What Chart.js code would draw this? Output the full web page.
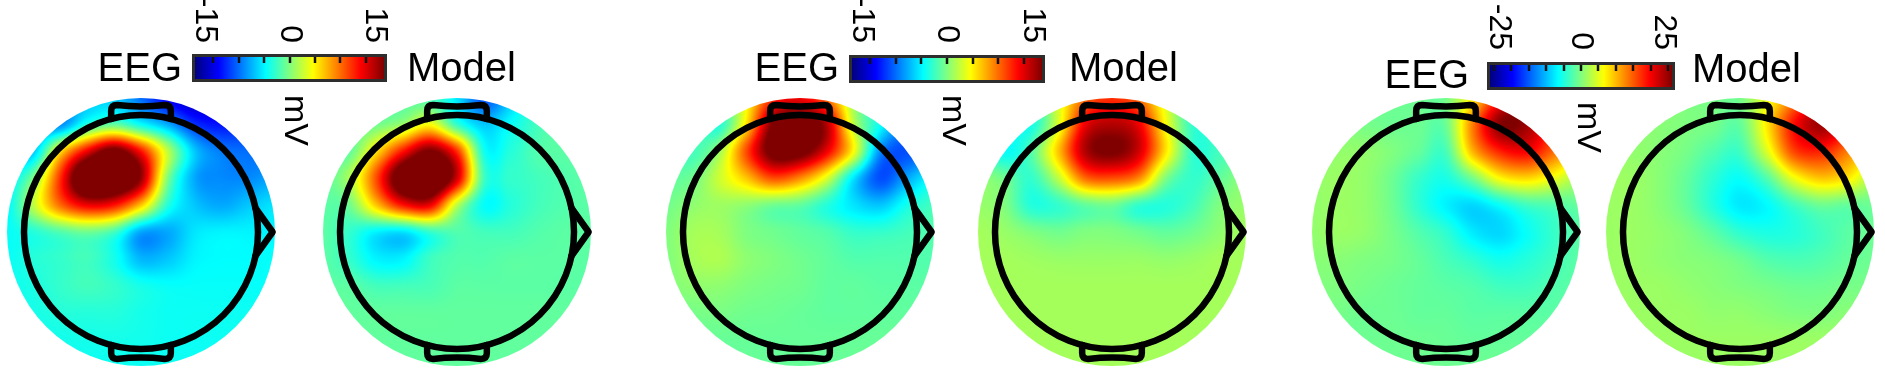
<!DOCTYPE html>
<html><head><meta charset="utf-8">
<script src="https://cdn.jsdelivr.net/npm/chart.js@4/dist/chart.umd.min.js"></script>
<style>
html,body{margin:0;padding:0;background:#fff;width:1885px;height:374px;overflow:hidden;position:relative;}
canvas{position:absolute;}
</style></head><body>
<script>
// ---------- data (electrode grid, head units; rows from front/top to back/bottom) ----------
const gridX = [-1.15,-0.92,-0.69,-0.46,-0.23,0,0.23,0.46,0.69,0.92,1.15];
const gridY = [1.15,0.92,0.69,0.46,0.23,0,-0.23,-0.46,-0.69,-0.92,-1.15];

const eeg1 = [
 [-6,-6,-6,-6,-6,-9,-13,-15,-14,-12,-10],
 [-6,-7,-8,-3,-1,-4,-7,-11,-12,-11,-10],
 [-6,-6,5,13,18,12,2,-6,-8.5,-9,-9],
 [-5,0,11,22,22,16,0,-7,-8,-8,-7],
 [-4.5,2,9,13,12,6,-3,-6,-7,-6,-5],
 [-4,-3,-1.5,-0.5,-2,-7,-7,-5,-4.5,-4.5,-4.5],
 [-4,-3,-2.5,-2,-3.5,-6.5,-6,-4.5,-4.2,-4.2,-4],
 [-3.8,-3.3,-2.5,-2,-2.5,-3.5,-4,-4,-4,-4,-4],
 [-3.8,-3.5,-3,-3,-3,-3.5,-3.8,-3.8,-3.8,-3.8,-3.8],
 [-3.8,-3.8,-3.6,-3.5,-3.5,-3.6,-3.8,-3.8,-3.8,-3.8,-3.8],
 [-3.8,-3.8,-3.8,-3.8,-3.8,-3.8,-3.8,-3.8,-3.8,-3.8,-3.8]
];
const model1 = [
 [-1.2,-1.2,-1.2,-1.2,-2,-5,-10,-6,-2,-1.2,-1.2],
 [-1.2,-1.2,-0.5,1,4,-2.5,-6,-4,-2,-1.2,-1.2],
 [-1.2,-1,5,12,17,11,-3.5,-3,-1.5,-1.2,-1.2],
 [-1.2,1.5,10,20,22,14,-2,-2.5,-2,-1.5,-1.2],
 [-1.2,-0.5,6,12,13,2,-4,-3,-2,-1.5,-1.2],
 [-1.2,-2.5,-4.5,-5,-2.5,-1.5,-2,-2,-1.5,-1.2,-1.2],
 [-1.2,-2.5,-4.5,-4.5,-2.2,-1.5,-1.5,-1.2,-1.2,-1.2,-1.2],
 [-1.2,-1.2,-2,-2,-1.8,-1.2,-1.2,-1.2,-1.2,-1.2,-1.2],
 [-1,-1,-1,-1,-1,-1,-1,-1,-1,-1,-1],
 [-1,-1,-1,-1,-1,-1,-1,-1,-1,-1,-1],
 [-1,-1,-1,-1,-1,-1,-1,-1,-1,-1,-1]
];
const eeg2 = [
 [-1,-1,-2,4,11,13,9,1,-4,-3,-2],
 [-1,-1,-3,5,17,19,15,2,-4,-8,-6],
 [-1,-2,1,10,18,18,13,4,-8,-10,-8],
 [-1,-0.5,2.5,6,10,8,3,-5,-10,-7,-4],
 [-0.5,0.5,1,0.5,-0.5,-1,-3,-5,-6,-3.5,-2],
 [0,1.2,1.2,0,-0.5,-1,-1.5,-2.5,-2.5,-2,-1.5],
 [0,1.2,1.5,0.5,0,-0.5,-1,-1.5,-1.5,-1.5,-1.5],
 [0,0.5,0.5,0,-0.3,-0.5,-1,-1,-1.2,-1.2,-1.2],
 [-0.5,-0.3,-0.2,-0.5,-0.6,-0.8,-1,-1,-1,-1,-1],
 [-0.8,-0.8,-0.8,-0.8,-0.8,-0.8,-0.8,-0.8,-0.8,-0.8,-0.8],
 [-0.8,-0.8,-0.8,-0.8,-0.8,-0.8,-0.8,-0.8,-0.8,-0.8,-0.8]
];
const model2 = [
 [-1,-1,-3,3,9,11,9,3,-3,-1.5,-1],
 [-1,-2.5,-3.5,3,13,15,13,4,-2.5,-2,-1],
 [-1,-4,-1.5,6,15,17,14,5,-2.5,-2,-1],
 [0.5,-0.5,-2.5,2,9,10,8,0,-2.5,-1,0.5],
 [0.8,0,-3,-2.5,-1,-0.5,-2.5,-3,-2,0,0.8],
 [1.2,0.8,0,-0.5,0,0,-0.5,-1,-0.5,0.5,1.2],
 [1.2,1.2,1,0.8,0.8,0.8,0.8,0.6,0.8,1.2,1.2],
 [1.2,1.2,1.2,1.2,1.2,1.2,1.2,1.2,1.2,1.2,1.2],
 [1.2,1.2,1.2,1.2,1.2,1.2,1.2,1.2,1.2,1.2,1.2],
 [1.2,1.2,1.2,1.2,1.2,1.2,1.2,1.2,1.2,1.2,1.2],
 [1.2,1.2,1.2,1.2,1.2,1.2,1.2,1.2,1.2,1.2,1.2]
];
const eeg3 = [
 [-1,-1,-1,-1,-1,-0.5,8,20,26,20,8],
 [-1,0,-0.5,-1,-1,-1,14,27,26,18,10],
 [0.5,1,1,0,-1.5,-3,11,19,21,15,8],
 [1,1.5,1,-1,-4,-5.5,-0.5,7,9,6,2],
 [1,1.5,1,-1,-4.5,-7.5,-9,-6.5,-3.5,-2.5,-1.5],
 [1,1.5,1,-0.5,-2.5,-4.5,-8,-9,-6.5,-4,-2],
 [0.5,0.5,0,-0.5,-1.5,-3,-4.5,-6,-5,-3.5,-2],
 [0,0,-0.5,-1,-1.5,-2,-2.5,-3.5,-3.5,-2.5,-2],
 [-0.5,-0.5,-1,-1,-1.5,-1.5,-2,-2,-2,-2,-2],
 [-1,-1,-1,-1,-1,-1.2,-1.5,-1.5,-1.5,-1.5,-1.5],
 [-1,-1,-1,-1,-1,-1,-1,-1,-1,-1,-1]
];
const model3 = [
 [1,1,1,0,-0.5,-0.5,6,14,22,18,8],
 [1,1,0.5,0,-0.5,-1.5,8,20,26,20,10],
 [1,1,0.5,-0.5,-2.5,-3.5,5,17,19,14,8],
 [1.5,1.5,0.5,-1.5,-4.5,-6.5,-2.5,6,10,8,2],
 [1.5,1.5,0.5,-1.5,-5,-8,-7,-3.5,-1,-1.5,-1],
 [1.5,1.5,1,0,-2,-4.5,-5.5,-5,-3.5,-2,-1],
 [1.5,1.5,1,0.5,0,-1,-2.5,-3,-2.5,-1.5,-1],
 [1.5,1.5,1.5,1,0.5,0,-0.5,-1,-1,-0.5,-0.5],
 [1.5,1.5,1.5,1.5,1,1,0.5,0,0,0.5,0.5],
 [1.5,1.5,1.5,1.5,1.5,1.5,1.5,1.5,1.5,1.5,1.5],
 [1.5,1.5,1.5,1.5,1.5,1.5,1.5,1.5,1.5,1.5,1.5]
];
const panelMaps = [eeg1, model1, eeg2, model2, eeg3, model3];
const panelLimits = [16.7, 16.7, 16.7, 16.7, 27.6, 27.6];   // colour limits (mV)

const cbLimits = [16.7, 16.7, 27.6];
const cbTickMarks12 = [-13.5,-9,-4.5,0,4.5,9,13.5];
const cbTickMarks3 = [-26.4,-21.1,-15.8,-10.6,-5.3,0,5.3,10.6,15.8,21.1,26.4];
const cbLabels12 = [-15, 0, 15];
const cbLabels3 = [-25, 0, 25];
const unitLabel = 'mV';
const panelNames = ['EEG', 'Model'];

// ---------- layout ----------
const FONT = '"Liberation Sans", Arial, sans-serif';
const headCX = [141, 457, 800, 1112, 1446, 1740];
const headCY = 232;
const HEAD_PX = 117;           // px per head unit
const DISK_R = 1.145;          // coloured disk radius (head units)
const CV = 300;

function jet(t){
  t = Math.max(0, Math.min(1, t));
  const f = a => Math.max(0, Math.min(1, 1.5 - Math.abs(4*t - a)));
  return [f(3)*255, f(2)*255, f(1)*255];
}
function cr(p0,p1,p2,p3,t){
  return p1 + 0.5*t*(p2 - p0 + t*(2*p0 - 5*p1 + 4*p2 - p3 + t*(3*(p1 - p2) + p3 - p0)));
}

function topoPlugin(lim){
  return {
    id:'topo',
    beforeDatasetsDraw(chart){
      const xs = chart.scales.x, ys = chart.scales.y, ca = chart.chartArea, ctx = chart.ctx;
      const pts = chart.data.datasets[0].data;
      const nx = gridX.length, ny = gridY.length;
      const vals = pts.map(p => p.v);
      const dxg = gridX[1]-gridX[0], dyg = gridY[1]-gridY[0];
      const w = Math.round(ca.right-ca.left), h = Math.round(ca.bottom-ca.top);
      const off = document.createElement('canvas'); off.width = w; off.height = h;
      const octx = off.getContext('2d');
      const img = octx.createImageData(w, h);
      const V = (j,i) => vals[Math.min(ny-1,Math.max(0,j))*nx + Math.min(nx-1,Math.max(0,i))];
      for(let py=0; py<h; py++){
        const uy = ys.getValueForPixel(ca.top+py+0.5);
        for(let px=0; px<w; px++){
          const ux = xs.getValueForPixel(ca.left+px+0.5);
          if(Math.hypot(ux,uy) > DISK_R + 0.02) continue;
          const gx = (ux-gridX[0])/dxg, gy = (uy-gridY[0])/dyg;
          const i1 = Math.floor(gx), j1 = Math.floor(gy), tx = gx-i1, ty = gy-j1;
          const r = [];
          for(let m=-1;m<=2;m++){
            r.push(cr(V(j1+m,i1-1),V(j1+m,i1),V(j1+m,i1+1),V(j1+m,i1+2),tx));
          }
          const v = cr(r[0],r[1],r[2],r[3],ty);
          const c = jet((v+lim)/(2*lim));
          const k = (py*w+px)*4;
          img.data[k]=c[0]; img.data[k+1]=c[1]; img.data[k+2]=c[2]; img.data[k+3]=255;
        }
      }
      octx.putImageData(img,0,0);
      ctx.save();
      ctx.beginPath();
      ctx.arc(xs.getPixelForValue(0), ys.getPixelForValue(0), xs.getPixelForValue(DISK_R)-xs.getPixelForValue(0), 0, Math.PI*2);
      ctx.clip();
      ctx.drawImage(off, ca.left, ca.top);
      ctx.restore();
    },
    afterDatasetsDraw(chart){
      const xs = chart.scales.x, ys = chart.scales.y, ctx = chart.ctx;
      const X = u => xs.getPixelForValue(u), Y = u => ys.getPixelForValue(u);
      ctx.save();
      ctx.strokeStyle = '#000'; ctx.lineWidth = 6.5; ctx.lineJoin = 'round'; ctx.lineCap = 'round';
      ctx.beginPath();
      ctx.arc(X(0), Y(0), X(1)-X(0), 0, Math.PI*2);
      ctx.stroke();
      const nw = 0.255, n0 = 0.965, n1 = 1.085, rc = 0.05;
      [1,-1].forEach(s => {
        ctx.beginPath();
        ctx.moveTo(X(-nw), Y(s*n0));
        ctx.lineTo(X(-nw), Y(s*(n1-rc)));
        ctx.quadraticCurveTo(X(-nw), Y(s*n1), X(-nw+rc), Y(s*n1));
        ctx.quadraticCurveTo(X(0), Y(s*(n1-0.025)), X(nw-rc), Y(s*n1));
        ctx.quadraticCurveTo(X(nw), Y(s*n1), X(nw), Y(s*(n1-rc)));
        ctx.lineTo(X(nw), Y(s*n0));
        ctx.stroke();
      });
      ctx.beginPath();
      ctx.moveTo(X(0.978), Y(0.205));
      ctx.lineTo(X(1.125), Y(0));
      ctx.lineTo(X(0.978), Y(-0.205));
      ctx.stroke();
      ctx.restore();
    }
  };
}

function makeHead(idx){
  const cv = document.createElement('canvas');
  cv.width = CV; cv.height = CV;
  cv.style.left = (headCX[idx]-CV/2)+'px';
  cv.style.top = (headCY-CV/2)+'px';
  document.body.appendChild(cv);
  const map = panelMaps[idx];
  const pts = [];
  gridY.forEach((gy,j) => gridX.forEach((gx,i) => pts.push({x:gx, y:gy, v:map[j][i]})));
  const half = (CV/2)/HEAD_PX;
  new Chart(cv, {
    type:'scatter',
    data:{datasets:[{data:pts, pointRadius:0, pointHoverRadius:0}]},
    options:{
      responsive:false, animation:false, devicePixelRatio:1, events:[],
      layout:{padding:0},
      plugins:{legend:{display:false}, tooltip:{enabled:false}},
      scales:{
        x:{type:'linear', min:-half, max:half, display:false},
        y:{type:'linear', min:-half, max:half, display:false}
      }
    },
    plugins:[topoPlugin(panelLimits[idx])]
  });
}

// colorbar layouts (page px): inner bar rect, label positions
const cbLayout = [
  {l:195, r:384, t:57, b:79, lblBottom:43, mvX:285, mvTop:95, eegR:182, eegB:81, modL:407, modB:81},
  {l:852, r:1042, t:58, b:80, lblBottom:43, mvX:943, mvTop:95, eegR:839, eegB:81, modL:1069, modB:81},
  {l:1490, r:1672, t:65, b:87, lblBottom:50, mvX:1578, mvTop:102, eegR:1469, eegB:88, modL:1692, modB:82}
];

function makeColorbar(g){
  const L = cbLayout[g];
  const lim = cbLimits[g];
  const tickMarks = g < 2 ? cbTickMarks12 : cbTickMarks3;
  const labels = g < 2 ? cbLabels12 : cbLabels3;
  const cl = L.l - 130, cr_ = L.r + 150, H = 170;
  const cv = document.createElement('canvas');
  cv.width = cr_-cl; cv.height = H;
  cv.style.left = cl+'px'; cv.style.top = '0px';
  document.body.appendChild(cv);
  const plugin = {
    id:'cbdeco',
    afterDatasetsDraw(chart){
      const ctx = chart.ctx, ca = chart.chartArea, xs = chart.scales.x;
      ctx.save();
      ctx.strokeStyle = '#2e2e2e'; ctx.lineWidth = 3;
      ctx.strokeRect(ca.left-1.5, ca.top-1.5, ca.right-ca.left+3, ca.bottom-ca.top+3);
      ctx.strokeStyle = '#111'; ctx.lineWidth = 2.5;
      tickMarks.forEach(v => {
        const x = Math.round(xs.getPixelForValue(v));
        ctx.beginPath(); ctx.moveTo(x, ca.top); ctx.lineTo(x, ca.top+6); ctx.stroke();
      });
      ctx.fillStyle = '#000';
      ctx.font = '32px ' + FONT;
      labels.forEach(v => {
        ctx.save();
        ctx.translate(xs.getPixelForValue(v), L.lblBottom);
        ctx.rotate(Math.PI/2);
        ctx.textAlign = 'right'; ctx.textBaseline = 'middle';
        ctx.fillText(String(v), 0, 0);
        ctx.restore();
      });
      ctx.save();
      ctx.font = '34px ' + FONT;
      ctx.translate(L.mvX - cl, L.mvTop);
      ctx.rotate(Math.PI/2);
      ctx.textAlign = 'left'; ctx.textBaseline = 'alphabetic';
      ctx.fillText(unitLabel, 0, 0);
      ctx.restore();
      ctx.font = '40px ' + FONT;
      ctx.textBaseline = 'alphabetic';
      ctx.textAlign = 'right';
      ctx.fillText(panelNames[0], L.eegR - cl, L.eegB);
      ctx.textAlign = 'left';
      ctx.fillText(panelNames[1], L.modL - cl, L.modB);
      ctx.restore();
    }
  };
  new Chart(cv, {
    type:'bar',
    data:{labels:['bar'], datasets:[{
      data:[[-lim, lim]],
      barPercentage:1, categoryPercentage:1, borderWidth:0,
      backgroundColor:(c) => {
        const ca = c.chart.chartArea;
        if(!ca) return '#888';
        const gr = c.chart.ctx.createLinearGradient(ca.left, 0, ca.right, 0);
        [0,0.125,0.375,0.625,0.875,1].forEach(t => {
          const q = jet(t); gr.addColorStop(t, `rgb(${q[0]},${q[1]},${q[2]})`);
        });
        return gr;
      }
    }]},
    options:{
      indexAxis:'y', responsive:false, animation:false, devicePixelRatio:1, events:[],
      layout:{padding:{left:L.l-cl, right:cr_-L.r, top:L.t, bottom:H-L.b}},
      plugins:{legend:{display:false}, tooltip:{enabled:false}},
      scales:{
        x:{type:'linear', min:-lim, max:lim, display:false},
        y:{type:'category', display:false}
      }
    },
    plugins:[plugin]
  });
}

for(let i=0;i<6;i++) makeHead(i);
for(let g=0;g<3;g++) makeColorbar(g);
</script>
</body></html>
